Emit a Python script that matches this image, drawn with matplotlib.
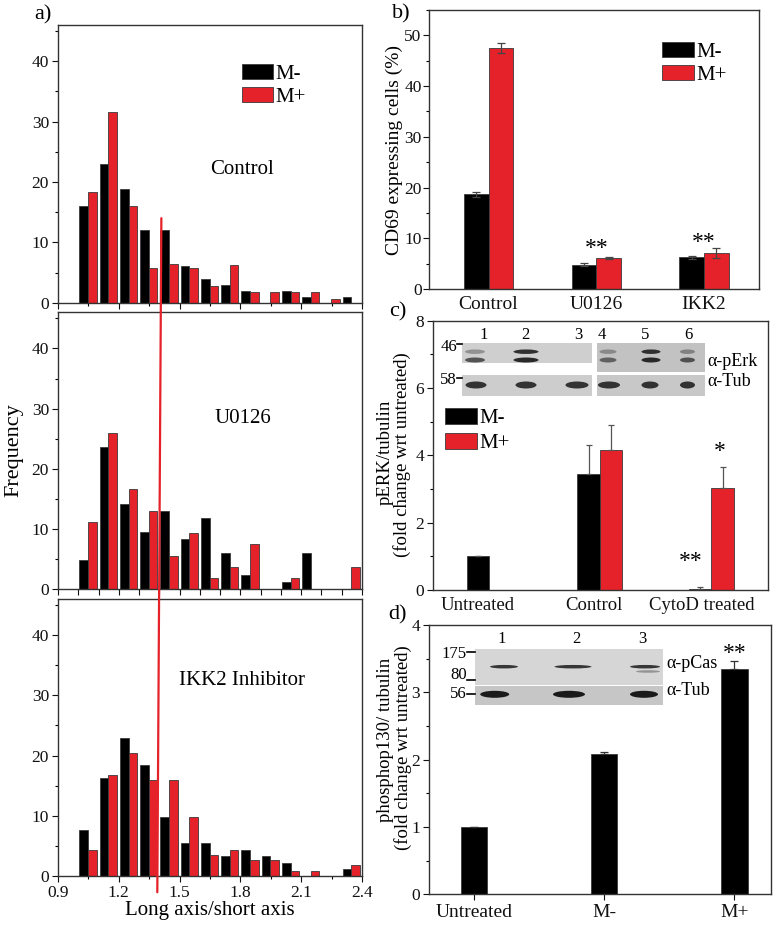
import matplotlib
matplotlib.use('Agg')
import matplotlib.pyplot as plt
from matplotlib.patches import Rectangle, Ellipse, ConnectionPatch
from matplotlib.ticker import MultipleLocator
import numpy as np

plt.rcParams['font.family'] = ['Liberation Serif', 'DejaVu Serif']
plt.rcParams['axes.linewidth'] = 1.0

RED = '#e52129'
EDGE = '#3a3a3a'

# ---- panel a: histograms of long axis / short axis ratio (bins of 0.1 from 1.0)
bins = [1.0, 1.1, 1.2, 1.3, 1.4, 1.5, 1.6, 1.7, 1.8, 1.9, 2.0, 2.1, 2.2, 2.3]
ctrl_minus = [16.0, 22.9, 18.9, 12.0, 12.0, 6.0, 4.0, 3.0, 2.0, 0, 2.0, 1.0, 0, 1.0]
ctrl_plus = [18.4, 31.6, 16.1, 5.8, 6.4, 5.8, 2.8, 6.3, 1.7, 1.7, 1.7, 1.7, 0.55, 0]
u0126_minus = [4.8, 23.6, 14.2, 9.5, 13.0, 8.3, 11.8, 6.0, 2.4, 0, 1.2, 6.0, 0, 0]
u0126_plus = [11.1, 26.0, 16.7, 13.0, 5.5, 9.3, 1.8, 3.7, 7.5, 0, 1.8, 0, 0, 3.7]
ikk2_minus = [7.6, 16.3, 22.9, 18.5, 9.8, 5.4, 5.4, 3.3, 4.4, 3.3, 2.2, 0, 0, 1.1]
ikk2_plus = [4.4, 16.8, 20.4, 16.0, 16.0, 9.8, 3.5, 4.4, 2.6, 2.6, 0.9, 0.9, 0, 1.8]
a_ticks = [0.9, 1.2, 1.5, 1.8, 2.1, 2.4]
a_ticklabels = ['0.9', '1.2', '1.5', '1.8', '2.1', '2.4']
cutoff_top = (1.41, 14)      # red marker line, top end (top panel data)
cutoff_bottom = (1.39, -2.7) # bottom end (bottom panel data)

# ---- panel b: CD69 expressing cells (%)
b_cats = ['Control', 'U0126', 'IKK2']
b_minus = [18.7, 4.8, 6.3]
b_minus_err = [0.5, 0.35, 0.3]
b_plus = [47.5, 6.2, 7.1]
b_plus_err = [1.0, 0.2, 1.0]
b_stars = ['', '**', '**']
b_star_y = [0, 8.0, 9.1]

# ---- panel c: pERK/tubulin
c_labels = ['Untreated', 'Control', 'CytoD treated']
c_label_pos = [1.0, 2.04, 3.0]
c_minus_pos = [1.0, 1.99, 2.99]
c_minus = [1.0, 3.44, 0.03]
c_minus_err = [0, 0.87, 0.07]
c_plus_pos = [2.19, 3.19]
c_plus = [4.17, 3.04]
c_plus_err = [0.72, 0.61]

# ---- panel d: phosphop130/tubulin
d_labels = ['Untreated', 'M-', 'M+']
d_vals = [1.0, 2.08, 3.34]
d_err = [0, 0.03, 0.13]

W, H = 778, 930
fig = plt.figure(figsize=(W / 100, H / 100), dpi=100)


def box(l, r, t, b):
    return [l / W, 1 - b / H, (r - l) / W, (b - t) / H]


def style(ax):
    for s in ax.spines.values():
        s.set_color('#333333')
    ax.tick_params(direction='out', length=4, width=0.8, labelsize=12.5, colors='#111111', pad=2.5)
    ax.tick_params(which='minor', direction='out', length=2.5, width=0.8)
    ax.tick_params(top=False, right=False, which='both')


def hist_panel(ax, blk, red, name, ny, step):
    x = np.array(bins)
    ax.bar(x + 0.005, blk, width=0.043, align='edge', color='black', edgecolor=EDGE, linewidth=0.6, label='M-')
    ax.bar(x + 0.048, red, width=0.042, align='edge', color=RED, edgecolor=EDGE, linewidth=0.6, label='M+')
    ax.set_ylim(0, 46)
    ax.yaxis.set_major_locator(MultipleLocator(10))
    ax.yaxis.set_minor_locator(MultipleLocator(5))
    if step == 0.1:
        ax.set_xticks(np.arange(0.9, 2.41, 0.1))
    else:
        ax.set_xticks(a_ticks)
        ax.set_xticks(np.arange(1.05, 2.4, 0.3), minor=True)
    ax.set_xlim(0.9, 2.4)
    style(ax)
    ax.text(1.81, ny, name, fontsize=15, ha='center', va='center')


ax_a1 = fig.add_axes(box(58, 362, 25, 302.7))
ax_a2 = fig.add_axes(box(58, 362, 312.3, 589.3))
ax_a3 = fig.add_axes(box(58, 362, 599, 876))
hist_panel(ax_a1, ctrl_minus, ctrl_plus, 'Control', 22, 0.15)
hist_panel(ax_a2, u0126_minus, u0126_plus, 'U0126', 28.3, 0.1)
hist_panel(ax_a3, ikk2_minus, ikk2_plus, 'IKK2 Inhibitor', 32.4, 0.15)
ax_a1.tick_params(labelbottom=False)
ax_a2.tick_params(labelbottom=False)
ax_a3.set_xticklabels(a_ticklabels)
ax_a3.set_xlabel('Long axis/short axis', fontsize=15, labelpad=0)
ax_a1.legend(loc='upper left', bbox_to_anchor=(0.605, 0.86), frameon=False, fontsize=15,
             handlelength=1.5, handleheight=0.75, handletextpad=0.1, labelspacing=0.15,
             borderpad=0, borderaxespad=0)
fig.text(14 / W, 1 - 450 / H, 'Frequency', rotation=90, fontsize=16, ha='center', va='center')

line = ConnectionPatch(xyA=cutoff_top, coordsA=ax_a1.transData,
                       xyB=cutoff_bottom, coordsB=ax_a3.transData,
                       color=RED, linewidth=1.6, zorder=20)
fig.add_artist(line)

# ---- panel b
ax_b = fig.add_axes(box(429.3, 759, 10, 289))
xb = np.arange(1, len(b_cats) + 1)
wb = 0.23
ax_b.bar(xb - wb / 2, b_minus, width=wb, color='black', edgecolor=EDGE, linewidth=0.6, label='M-')
ax_b.bar(xb + wb / 2, b_plus, width=wb, color=RED, edgecolor=EDGE, linewidth=0.6, label='M+')
ax_b.errorbar(xb - wb / 2, b_minus, yerr=b_minus_err, fmt='none', ecolor='#444444', elinewidth=0.9, capsize=3, capthick=0.9)
ax_b.errorbar(xb + wb / 2, b_plus, yerr=b_plus_err, fmt='none', ecolor='#444444', elinewidth=0.9, capsize=3, capthick=0.9)
for xi, s, sy in zip(xb, b_stars, b_star_y):
    if s:
        ax_b.text(xi, sy, s, fontsize=17, ha='center', va='center')
ax_b.set_xlim(0.45, 3.51)
ax_b.set_ylim(0, 55)
ax_b.set_xticks(xb)
ax_b.set_xticklabels(b_cats)
ax_b.yaxis.set_major_locator(MultipleLocator(10))
ax_b.yaxis.set_minor_locator(MultipleLocator(5))
style(ax_b)
ax_b.tick_params(axis='y', pad=1.5)
ax_b.tick_params(axis='x', labelsize=14, length=0, pad=5)
ax_b.legend(loc='upper left', bbox_to_anchor=(0.705, 0.885), frameon=False, fontsize=15,
            handlelength=1.55, handleheight=0.75, handletextpad=0.1, labelspacing=0.15,
            borderpad=0, borderaxespad=0)
fig.text(394 / W, 1 - 150 / H, 'CD69 expressing cells (%)', rotation=90, fontsize=14, ha='center', va='center')

# ---- panel c
ax_c = fig.add_axes(box(433.3, 768, 320.7, 590))
wc = 0.2
ax_c.errorbar(c_minus_pos, c_minus, yerr=[np.zeros(3), c_minus_err], fmt='none', ecolor='#555555', elinewidth=0.9, capsize=2, capthick=0.9)
ax_c.errorbar(c_plus_pos, c_plus, yerr=[np.zeros(2), c_plus_err], fmt='none', ecolor='#555555', elinewidth=0.9, capsize=2, capthick=0.9)
ax_c.bar(c_minus_pos, c_minus, width=wc, color='black', edgecolor=EDGE, linewidth=0.6, label='M-')
ax_c.bar(c_plus_pos, c_plus, width=wc, color=RED, edgecolor=EDGE, linewidth=0.6, label='M+')
ax_c.text(c_plus_pos[1] - 0.03, 4.1, '*', fontsize=17, ha='center', va='center')
ax_c.text(c_minus_pos[2] - 0.09, 0.84, '**', fontsize=17, ha='center', va='center')
ax_c.set_xlim(0.6, 3.596)
ax_c.set_ylim(0, 8)
ax_c.set_xticks(c_label_pos)
ax_c.set_xticklabels(c_labels)
ax_c.yaxis.set_major_locator(MultipleLocator(2))
ax_c.yaxis.set_minor_locator(MultipleLocator(1))
style(ax_c)
ax_c.tick_params(axis='x', labelsize=13.5, length=0, pad=5)
ax_c.legend(loc='upper left', bbox_to_anchor=(0.035, 0.675), frameon=False, fontsize=15,
            handlelength=1.55, handleheight=0.8, handletextpad=0.1, labelspacing=0.2,
            borderpad=0, borderaxespad=0)
fig.text(385 / W, 1 - 452 / H, 'pERK/tubulin', rotation=90, fontsize=13.5, ha='center', va='center')
fig.text(402 / W, 1 - 455 / H, '(fold change wrt untreated)', rotation=90, fontsize=13.5, ha='center', va='center')

# ---- panel d
ax_d = fig.add_axes(box(429.3, 770.7, 625, 894.3))
xd = np.arange(1, len(d_labels) + 1)
ax_d.errorbar(xd, d_vals, yerr=[np.zeros(3), d_err], fmt='none', ecolor='#333333', elinewidth=0.9, capsize=3, capthick=0.9)
ax_d.bar(xd, d_vals, width=0.205, color='black', edgecolor=EDGE, linewidth=0.6)
ax_d.text(xd[2], 3.58, '**', fontsize=17, ha='center', va='center')
ax_d.set_xlim(0.656, 3.28)
ax_d.set_ylim(0, 4)
ax_d.set_xticks(xd)
ax_d.set_xticklabels(d_labels)
ax_d.yaxis.set_major_locator(MultipleLocator(1))
ax_d.yaxis.set_minor_locator(MultipleLocator(0.5))
style(ax_d)
ax_d.tick_params(axis='x', labelsize=14, pad=3)
fig.text(386 / W, 1 - 740 / H, 'phosphop130/ tubulin', rotation=90, fontsize=13.5, ha='center', va='center')
fig.text(403 / W, 1 - 748 / H, '(fold change wrt untreated)', rotation=90, fontsize=13.5, ha='center', va='center')

# ---- overlay in pixel units: panel letters and western blot insets
ov = fig.add_axes([0, 0, 1, 1], zorder=10)
ov.set_xlim(0, W)
ov.set_ylim(H, 0)
ov.axis('off')
ov.patch.set_alpha(0)

for lab, px, py in [('a)', 43, 15), ('b)', 401, 14), ('c)', 398, 312), ('d)', 398, 615)]:
    ov.text(px, py, lab, fontsize=16, ha='center', va='center')

# blot c
ov.add_patch(Rectangle((461.7, 342.7), 130, 20.6, color='#cfcfcf', lw=0))
ov.add_patch(Rectangle((596.7, 342.7), 108.3, 29, color='#c2c2c2', lw=0))
ov.add_patch(Rectangle((461.7, 375), 130, 21, color='#cdcdcd', lw=0))
ov.add_patch(Rectangle((596.7, 375), 108.3, 21, color='#c8c8c8', lw=0))
erk_lanes = [(475, 20, 0.35, 0.7), (526, 25, 0.9, 0.95), (608, 17, 0.35, 0.6), (651, 19, 0.9, 0.95), (687.5, 15, 0.4, 0.7)]
for cx, w, a_up, a_lo in erk_lanes:
    ov.add_patch(Ellipse((cx, 351.7), w, 4.5, color='#202020', alpha=a_up, lw=0))
    ov.add_patch(Ellipse((cx, 360), w, 5, color='#202020', alpha=a_lo, lw=0))
for cx, w in [(476, 21), (526, 21), (577, 23), (609, 22), (650, 17), (687.5, 15)]:
    ov.add_patch(Ellipse((cx, 385), w, 7, color='#222222', alpha=0.9, lw=0))
for lab, px in zip('123456', [483.3, 525, 578.3, 601.7, 645, 688.3]):
    ov.text(px, 335, lab, fontsize=12, ha='center', va='center')
ov.text(457, 346.5, '46', fontsize=12, ha='right', va='center')
ov.plot([457.5, 462], [344.5, 344.5], color='black', lw=1.2)
ov.text(457, 380, '58', fontsize=12, ha='right', va='center')
ov.plot([457.5, 462], [378, 378], color='black', lw=1.2)
ov.text(707, 361, 'α-pErk', fontsize=13, ha='left', va='center')
ov.text(707, 381.5, 'α-Tub', fontsize=13, ha='left', va='center')

# blot d
ov.add_patch(Rectangle((475, 649.3), 188.3, 35.7, color='#d6d6d6', lw=0))
ov.add_patch(Rectangle((475, 686), 188.3, 19, color='#c6c6c6', lw=0))
for cx, w in [(504, 28), (573, 37), (645, 30)]:
    ov.add_patch(Ellipse((cx, 666.7), w, 3.5, color='#1a1a1a', alpha=0.85, lw=0))
ov.add_patch(Ellipse((648, 671.5), 24, 2.5, color='#303030', alpha=0.4, lw=0))
for cx, w in [(494.7, 29), (569, 32), (644, 28)]:
    ov.add_patch(Ellipse((cx, 694.3), w, 7, color='#111111', alpha=0.95, lw=0))
for lab, px in zip('123', [501.7, 576.7, 642.3]):
    ov.text(px, 639.3, lab, fontsize=12, ha='center', va='center')
ov.text(467, 654.3, '175', fontsize=12, ha='right', va='center')
ov.plot([467.5, 475], [652, 652], color='black', lw=1.2)
ov.text(467, 675, '80', fontsize=12, ha='right', va='center')
ov.plot([467.5, 475], [680, 680], color='black', lw=1.2)
ov.text(467, 694.3, '56', fontsize=12, ha='right', va='center')
ov.plot([467.5, 475], [694.3, 694.3], color='black', lw=1.2)
ov.text(666, 663.3, 'α-pCas', fontsize=13, ha='left', va='center')
ov.text(666, 690, 'α-Tub', fontsize=13, ha='left', va='center')

fig.savefig('out.png', dpi=100)
